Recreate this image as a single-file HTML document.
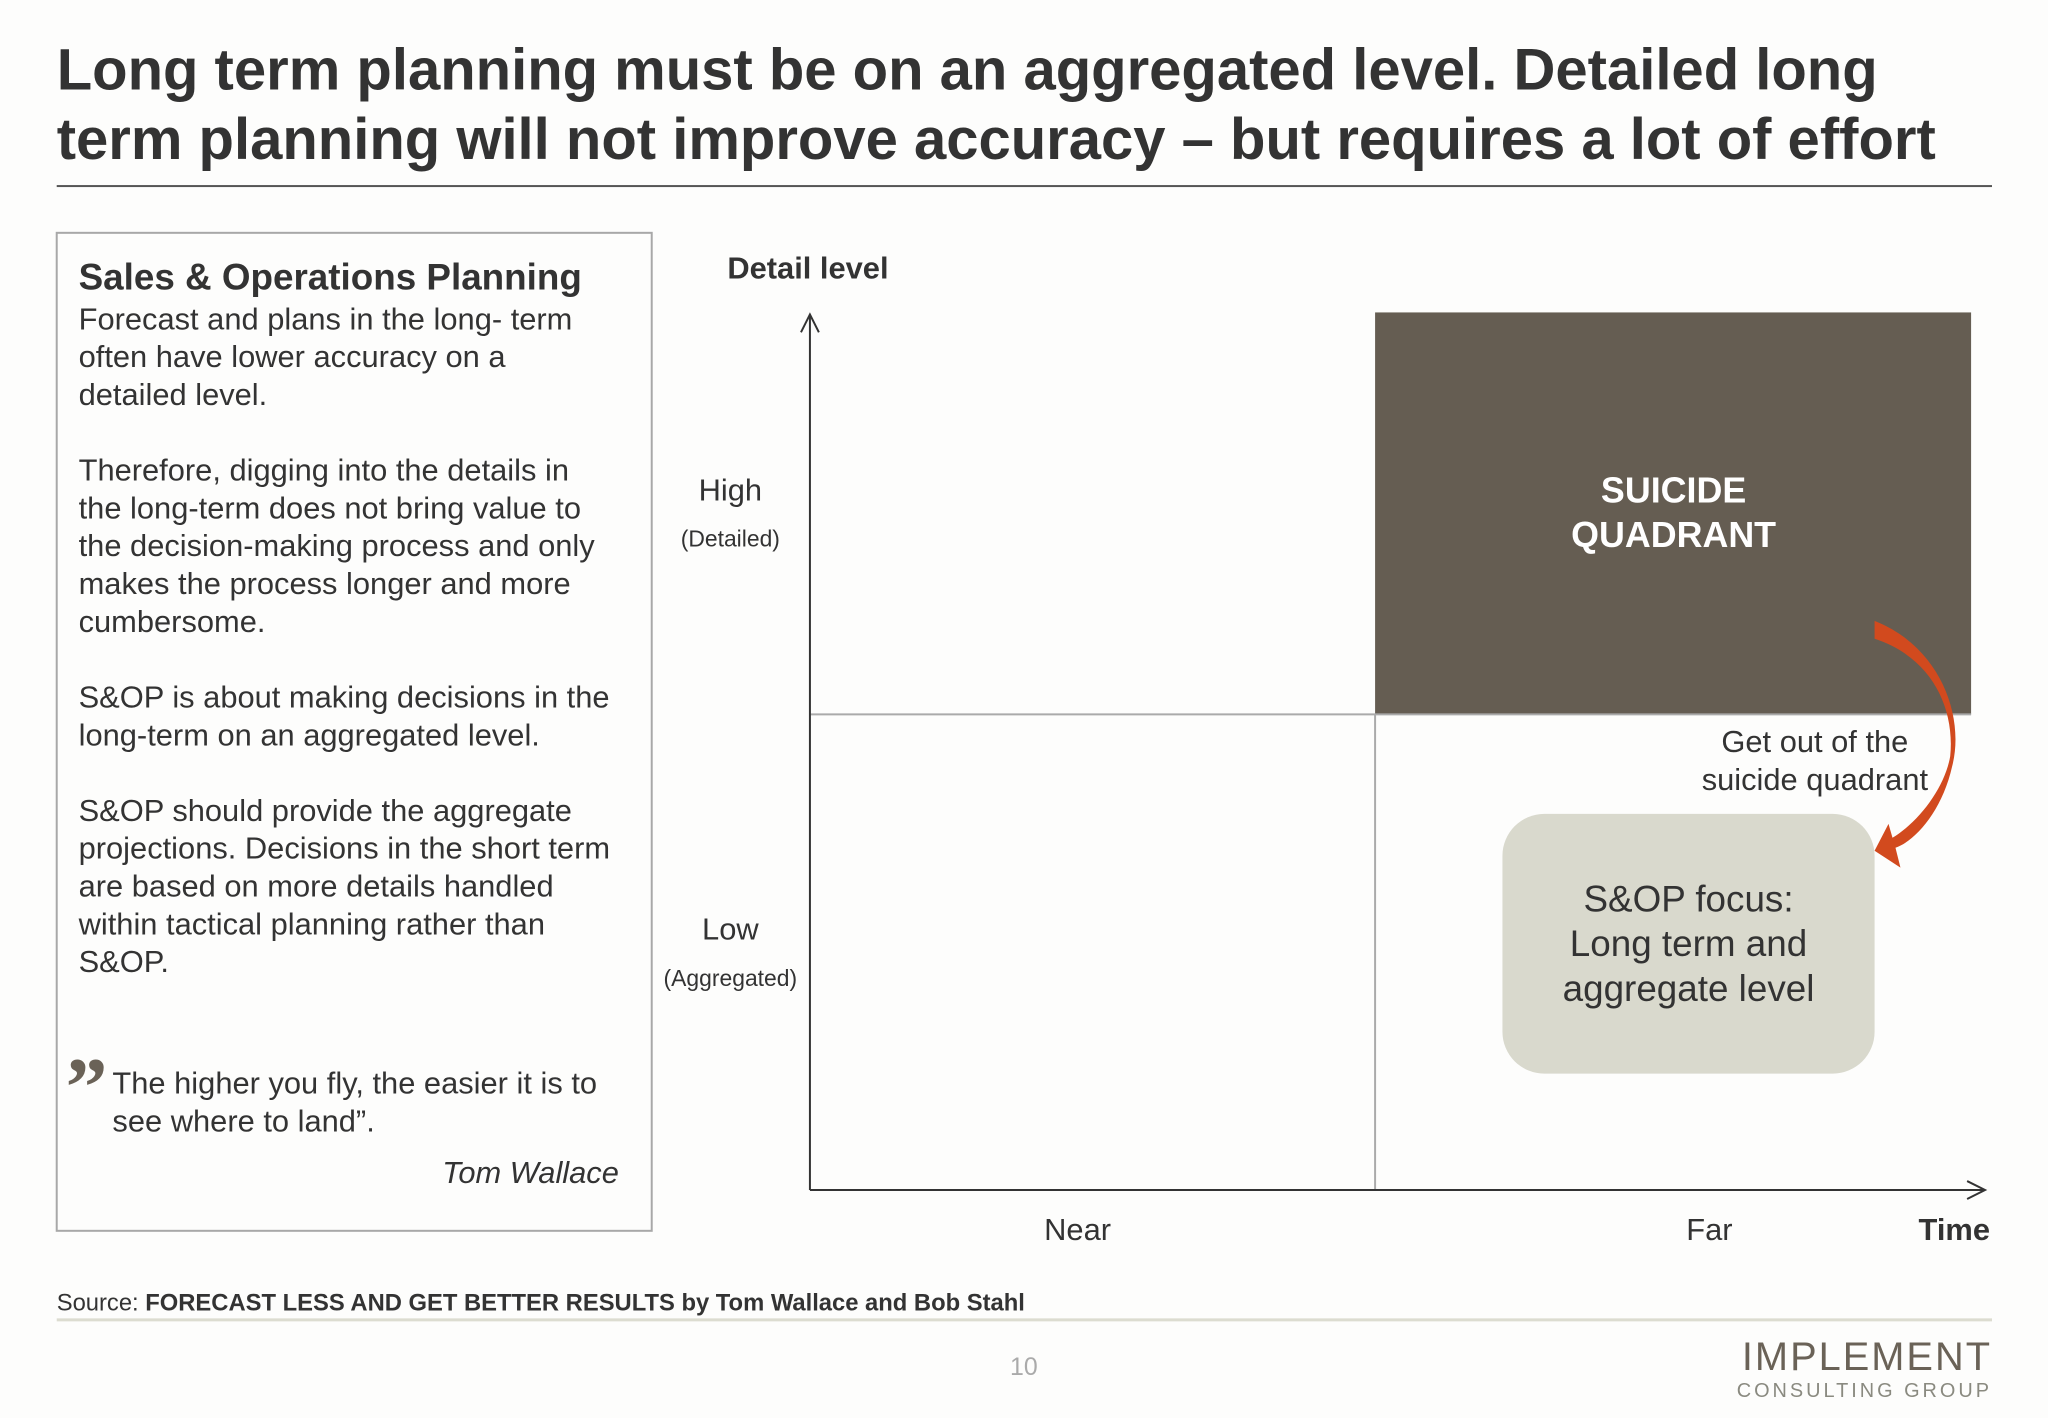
<!DOCTYPE html>
<html><head><meta charset="utf-8"><style>
body{margin:0;width:2048px;height:1418px;background:#fdfdfc;font-family:"Liberation Sans",Arial,sans-serif;color:#2e2e2e;overflow:hidden}
#w{position:absolute;left:0;top:0;width:2048px;height:1418px;transform:scale(0.995);transform-origin:0 0}
.a{position:absolute;white-space:nowrap}
.c{transform:translateX(-50%);text-align:center}
</style></head><body><div id="w">
<div class="a" style="left:57px;top:36px;font-size:58.3px;font-weight:bold;line-height:70px;color:#333">Long term planning must be on an aggregated level. Detailed long<br>term planning will not improve accuracy – but requires a lot of effort</div>
<div class="a" style="left:57px;top:186px;width:1945px;height:2px;background:#555"></div>

<div class="a" style="left:56px;top:233px;width:596px;height:1001px;border:2px solid #a8a8a8"></div>
<div class="a" style="left:79px;top:256px;font-size:31px;line-height:38px;color:#333">
<div style="font-weight:bold;font-size:37px;line-height:46px">Sales &amp; Operations Planning</div>
Forecast and plans in the long- term<br>often have lower accuracy on a<br>detailed level.<br><br>Therefore, digging into the details in<br>the long-term does not bring value to<br>the decision-making process and only<br>makes the process longer and more<br>cumbersome.<br><br>S&amp;OP is about making decisions in the<br>long-term on an aggregated level.<br><br>S&amp;OP should provide the aggregate<br>projections. Decisions in the short term<br>are based on more details handled<br>within tactical planning rather than<br>S&amp;OP.</div>
<div class="a" style="left:66px;top:1052px;font-size:84px;font-weight:bold;color:#6a6257;line-height:84px;font-family:'Liberation Serif',serif">”</div>
<div class="a" style="left:113px;top:1070px;font-size:31px;line-height:38px;color:#333">The higher you fly, the easier it is to<br>see where to land”.</div>
<div class="a" style="right:1426px;top:1161px;font-size:31px;font-style:italic;color:#333">Tom Wallace</div>

<svg class="a" style="left:0;top:0" width="2048" height="1418">
<rect x="1382" y="314" width="599" height="404" fill="#655d52"/>
<line x1="814" y1="718" x2="1981" y2="718" stroke="#aaa" stroke-width="2"/>
<line x1="1382" y1="718" x2="1382" y2="1196" stroke="#aaa" stroke-width="2"/>
<line x1="814" y1="1196" x2="814" y2="316" stroke="#333" stroke-width="2"/>
<polyline points="805,334 814,316 823,334" fill="none" stroke="#333" stroke-width="2"/>
<line x1="814" y1="1196" x2="1995" y2="1196" stroke="#333" stroke-width="2"/>
<polyline points="1977,1187 1995,1196 1977,1205" fill="none" stroke="#333" stroke-width="2"/>
<rect x="1510" y="818" width="374" height="261" rx="42" fill="#d9d9cd"/>
<path d="M1884,624 C1950,650 1975,720 1962,770 C1952,815 1925,845 1905,852 L1910,872 L1884,855 L1898,828 L1902,842 C1930,825 1955,790 1960,760 C1965,710 1940,660 1884,642 Z" fill="#d24a1e"/>
</svg>

<div class="a c" style="left:1682px;top:470px;font-size:36px;font-weight:bold;line-height:45px;color:#fff">SUICIDE<br>QUADRANT</div>
<div class="a c" style="left:1697px;top:881px;font-size:37px;line-height:45px;color:#333">S&amp;OP focus:<br>Long term and<br>aggregate level</div>
<div class="a c" style="left:1824px;top:727px;font-size:31px;line-height:38px;color:#333">Get out of the<br>suicide quadrant</div>

<div class="a" style="left:731px;top:252px;font-size:31px;font-weight:bold;color:#333">Detail level</div>
<div class="a c" style="left:734px;top:475px;font-size:31px;color:#333">High</div>
<div class="a c" style="left:734px;top:528px;font-size:23px;color:#333">(Detailed)</div>
<div class="a c" style="left:734px;top:916px;font-size:31px;color:#333">Low</div>
<div class="a c" style="left:734px;top:970px;font-size:23px;color:#333">(Aggregated)</div>
<div class="a c" style="left:1083px;top:1218px;font-size:31px;color:#333">Near</div>
<div class="a c" style="left:1718px;top:1218px;font-size:31px;color:#333">Far</div>
<div class="a" style="right:48px;top:1218px;font-size:31px;font-weight:bold;color:#333">Time</div>

<div class="a" style="left:57px;top:1296px;font-size:23.9px;color:#333">Source: <b>FORECAST LESS AND GET BETTER RESULTS by Tom Wallace and Bob Stahl</b></div>
<div class="a" style="left:57px;top:1325px;width:1945px;height:3px;background:#dcdcd0"></div>
<div class="a c" style="left:1029px;top:1360px;font-size:25px;color:#aaa">10</div>
<div class="a" style="right:46px;top:1342px;font-size:40px;letter-spacing:2px;color:#6a6257">IMPLEMENT</div>
<div class="a" style="right:46px;top:1387px;font-size:20px;letter-spacing:3px;color:#8a8a80">CONSULTING GROUP</div>
</div></body></html>
